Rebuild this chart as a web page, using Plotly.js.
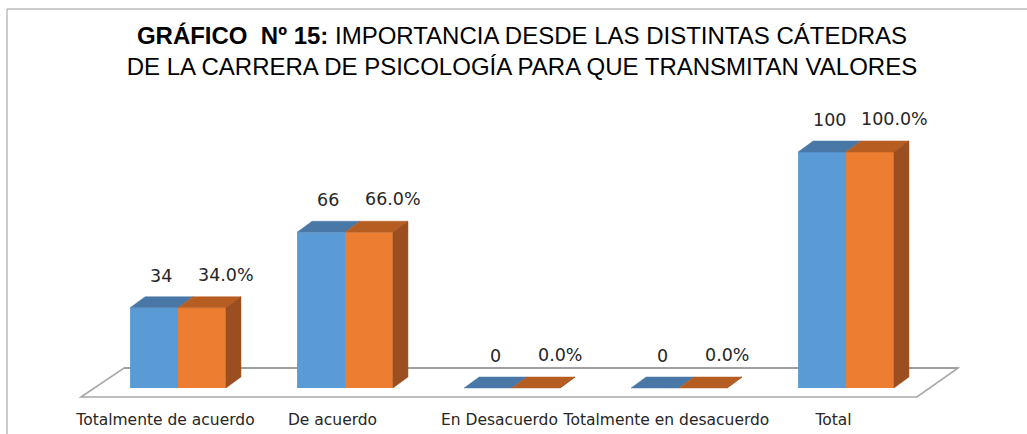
<!DOCTYPE html>
<html>
<head>
<meta charset="utf-8">
<script src="https://cdn.plot.ly/plotly-3.0.1.min.js"></script>
<style>
html,body{margin:0;padding:0;background:#fff;}
#chart{width:1027px;height:434px;}
</style>
</head>
<body>
<div id="chart"></div>
<script>
// ---- data ----
const categories = ["Totalmente de acuerdo", "De acuerdo", "En Desacuerdo", "Totalmente en desacuerdo", "Total"];
const frecuencia = [34, 66, 0, 0, 100];
const porcentaje = [34.0, 66.0, 0.0, 0.0, 100.0];
const frecuenciaLabels = frecuencia.map(v => String(v));
const porcentajeLabels = porcentaje.map(v => v.toFixed(1) + "%");

// ---- styling / geometry ----
const W = 1027, H = 434;
const M = {l: 0, r: 0, t: 90, b: 36};
const barW = 0.287;          // width of each bar (category units)
const dX = 0.09;             // 3D depth, x (category units)
const dY = 4.66;             // 3D depth, y (value units)
const xr = [-1.0659, 5.0838];
const yr = [-4.237, 126.27];

const blue = "#5B9BD5", blueTop = "#4A78A6";
const orange = "#ED7D31", orangeTop = "#B65D22", orangeSide = "#9B4E1F";

const idx = categories.map((c, i) => i);

function topFaces(vals, off) {
  const xs = [], ys = [];
  vals.forEach((v, i) => {
    const x0 = i + off, x1 = x0 + barW;
    xs.push(x0, x1, x1 + dX, x0 + dX, x0, null);
    ys.push(v, v, v + dY, v + dY, v, null);
  });
  return {xs, ys};
}
function sideFaces(vals, off) {
  const xs = [], ys = [];
  vals.forEach((v, i) => {
    const x1 = i + off + barW;
    xs.push(x1, x1, x1 + dX, x1 + dX, x1, null);
    ys.push(0, v, v + dY, dY, 0, null);
  });
  return {xs, ys};
}

const bt = topFaces(frecuencia, -barW);
const ot = topFaces(porcentaje, 0);
const os = sideFaces(porcentaje, 0);

const traces = [
  {type: "bar", x: idx, y: frecuencia, width: barW, offset: -barW,
   marker: {color: blue, line: {width: 0}}, hoverinfo: "skip", showlegend: false},
  {type: "bar", x: idx, y: porcentaje, width: barW, offset: 0,
   marker: {color: orange, line: {width: 0}}, hoverinfo: "skip", showlegend: false},
  {type: "scatter", mode: "lines", x: bt.xs, y: bt.ys, fill: "toself", fillcolor: blueTop,
   line: {color: blueTop, width: 0.5}, hoverinfo: "skip", showlegend: false},
  {type: "scatter", mode: "lines", x: ot.xs, y: ot.ys, fill: "toself", fillcolor: orangeTop,
   line: {color: orangeTop, width: 0.5}, hoverinfo: "skip", showlegend: false},
  {type: "scatter", mode: "lines", x: os.xs, y: os.ys, fill: "toself", fillcolor: orangeSide,
   line: {color: orangeSide, width: 0.5}, hoverinfo: "skip", showlegend: false}
];

// floor (decorative plane under the bars)
const n = categories.length;
const fl = {xf0: -0.581, xf1: (n - 1) + 0.425, xb0: -0.323, xb1: (n - 1) + 0.671, yf: -3.81, yb: 8.47};
const shapes = [
  {type: "path", xref: "x", yref: "y", layer: "below",
   path: `M ${fl.xf0} ${fl.yf} L ${fl.xf1} ${fl.yf} L ${fl.xb1} ${fl.yb} L ${fl.xb0} ${fl.yb} Z`,
   fillcolor: "#FFFFFF", line: {color: "#A8A8A8", width: 1.6}},
  {type: "line", xref: "x", yref: "y", layer: "below",
   x0: fl.xb0, x1: fl.xb1, y0: fl.yb, y1: fl.yb, line: {color: "#A0A0A0", width: 2.2}},
  // chart frame
  {type: "rect", xref: "paper", yref: "paper",
   x0: 7 / W, x1: 1.02, y0: -0.3, y1: (H - M.b - 9) / (H - M.t - M.b),
   line: {color: "#9A9A9A", width: 1}, fillcolor: "rgba(0,0,0,0)"}
];

const labelFont = {family: "DejaVu Sans, Verdana, sans-serif", size: 17.5, color: "#262626"};
const annotations = [];
idx.forEach(i => {
  annotations.push({x: i - 0.1, y: frecuencia[i], xref: "x", yref: "y", text: frecuenciaLabels[i],
    showarrow: false, yanchor: "middle", xanchor: "center", yshift: 32, font: labelFont});
  annotations.push({x: i + 0.29, y: porcentaje[i], xref: "x", yref: "y", text: porcentajeLabels[i],
    showarrow: false, yanchor: "middle", xanchor: "center", yshift: 33, font: labelFont});
});

const layout = {
  width: W, height: H,
  margin: M,
  paper_bgcolor: "#FFFFFF", plot_bgcolor: "#FFFFFF",
  showlegend: false,
  title: {
    text: "<b>GRÁFICO  Nº 15:</b> IMPORTANCIA DESDE LAS DISTINTAS CÁTEDRAS<br>DE LA CARRERA DE PSICOLOGÍA PARA QUE TRANSMITAN VALORES",
    font: {family: "Liberation Sans, Arial, sans-serif", size: 24, color: "#000000"},
    x: 522 / W, xanchor: "center", xref: "container",
    y: 1 - 44 / H, yanchor: "middle", yref: "container"
  },
  xaxis: {
    range: xr, fixedrange: true,
    tickmode: "array", tickvals: idx.map(i => i - 0.075), ticktext: categories,
    showgrid: false, zeroline: false, showline: false, ticks: "",
    ticklabelstandoff: 10,
    tickfont: {family: "DejaVu Sans, Verdana, sans-serif", size: 15.5, color: "#262626"}
  },
  yaxis: {
    range: yr, fixedrange: true,
    showgrid: false, zeroline: false, showline: false, showticklabels: false, ticks: ""
  },
  shapes: shapes,
  annotations: annotations
};

Plotly.newPlot("chart", traces, layout, {displayModeBar: false, staticPlot: true});
</script>
</body>
</html>
